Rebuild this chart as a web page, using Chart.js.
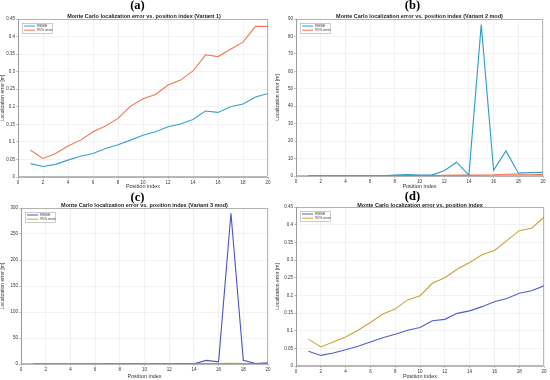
<!DOCTYPE html>
<html><head><meta charset="utf-8">
<script src="https://cdn.jsdelivr.net/npm/chart.js@4"></script>
<style>
html,body{margin:0;padding:0;background:#fff;}
body{width:550px;height:380px;position:relative;overflow:hidden;font-family:"Liberation Sans",Arial,sans-serif;}
.panel{position:absolute;width:275px;height:190px;}
.panel canvas{position:absolute;left:0;top:0;}
.lab{position:absolute;left:0;width:275px;text-align:center;font-family:"Liberation Serif","DejaVu Serif",serif;font-weight:bold;font-size:12.5px;line-height:12px;top:-1px;color:#000;}
.ttl{position:absolute;left:18px;width:252px;text-align:center;font-weight:bold;font-size:5.5px;line-height:6px;color:#222;}
</style></head><body>
<div class="panel" style="left:0;top:0"><canvas id="ca" width="275" height="190"></canvas><div class="lab">(a)</div><div class="ttl" style="top:12.5px">Monte Carlo localization error vs. position index (Variant 1)</div></div>
<div class="panel" style="left:275px;top:0"><canvas id="cb" width="275" height="190"></canvas><div class="lab">(b)</div><div class="ttl" style="top:12.5px;left:21px;width:247px">Monte Carlo localization error vs. position index (Variant 2 mod)</div></div>
<div class="panel" style="left:0;top:190px"><canvas id="cc" width="275" height="190"></canvas><div class="lab" style="top:1px">(c)</div><div class="ttl" style="top:12px;left:21px;width:247px">Monte Carlo localization error vs. position index (Variant 3 mod)</div></div>
<div class="panel" style="left:275px;top:190px"><canvas id="cd" width="275" height="190"></canvas><div class="lab" style="top:0px">(d)</div><div class="ttl" style="top:11.5px;left:21px;width:248px">Monte Carlo localization error vs. position index</div></div>
<script>
const positions = [1,2,3,4,5,6,7,8,9,10,11,12,13,14,15,16,17,18,19,20];
const seriesNames = ["RMSE","95% error"];

const rmseA = [0.038,0.030,0.036,0.048,0.059,0.067,0.081,0.092,0.105,0.119,0.129,0.143,0.151,0.164,0.188,0.184,0.200,0.208,0.228,0.238];
const p95A  = [0.076,0.053,0.067,0.088,0.105,0.129,0.145,0.167,0.202,0.223,0.235,0.262,0.276,0.302,0.348,0.343,0.364,0.384,0.429,0.429];

const rmseB = [0.05,0.05,0.05,0.05,0.06,0.07,0.08,0.5,0.8,0.6,0.5,3.0,7.9,0.5,86.8,3.3,14.4,1.7,2.0,2.1];
const p95B  = [0.05,0.05,0.05,0.06,0.06,0.07,0.08,0.15,0.2,0.3,0.3,0.4,0.5,0.5,0.6,0.7,1.0,1.1,1.0,0.8];

const rmseC = [0.04,0.03,0.04,0.05,0.06,0.07,0.08,0.09,0.1,0.11,0.13,0.14,0.15,0.5,7,4,290,7,1,2.5];
const p95C  = [0.08,0.05,0.07,0.09,0.1,0.13,0.15,0.17,0.2,0.22,0.24,0.26,0.28,0.4,0.9,0.8,1.2,1.0,0.7,0.9];

const rmseD = [0.042,0.030,0.037,0.046,0.056,0.068,0.080,0.090,0.101,0.109,0.128,0.132,0.149,0.156,0.168,0.182,0.191,0.206,0.213,0.227];
const p95D  = [0.076,0.054,0.068,0.082,0.101,0.123,0.147,0.161,0.187,0.199,0.234,0.250,0.274,0.293,0.315,0.327,0.355,0.383,0.390,0.421];

const xTicks = [0,2,4,6,8,10,12,14,16,18,20];
const yTicksA = [0,0.05,0.1,0.15,0.2,0.25,0.3,0.35,0.4,0.45];
const yTicksB = [0,10,20,30,40,50,60,70,80,90];
const yTicksC = [0,50,100,150,200,250,300];
const yTicksD = [0,0.05,0.1,0.15,0.2,0.25,0.3,0.35,0.4,0.45];

const FONT = "'Liberation Sans', Arial, sans-serif";

const boxLegend = {
  id:'boxLegend',
  afterDraw(chart){
    const {ctx, chartArea:a} = chart;
    ctx.save();
    ctx.strokeStyle='#8a8a8a'; ctx.lineWidth=0.6;
    ctx.strokeRect(a.left+0.5,a.top+0.5,a.right-a.left-1,a.bottom-a.top-1);
    const x=a.left+4, y=a.top+4, w=30, h=10;
    ctx.fillStyle='#fff'; ctx.fillRect(x,y,w,h);
    ctx.strokeStyle='#9a9a9a'; ctx.lineWidth=0.5; ctx.strokeRect(x+0.5,y+0.5,w,h);
    ctx.font="3.6px "+FONT; ctx.textBaseline='middle'; ctx.fillStyle='#333';
    chart.data.datasets.forEach((ds,i)=>{
      const yy=y+3+i*4.2;
      ctx.strokeStyle=ds.borderColor; ctx.lineWidth=1;
      ctx.beginPath(); ctx.moveTo(x+2,yy); ctx.lineTo(x+13,yy); ctx.stroke();
      ctx.fillText(ds.label,x+15,yy);
    });
    ctx.restore();
  }
};

function makeChart(id, rmse, p95, c1, c2, yTicks, ymax, geom){
  const fmt = v => String(+v.toFixed(2));
  new Chart(document.getElementById(id), {
    type:'line',
    data:{labels:positions, datasets:[
      {label:seriesNames[0], data:positions.map((p,i)=>({x:p,y:rmse[i]})), borderColor:c1, borderWidth:1.1, pointRadius:0, tension:0, fill:false},
      {label:seriesNames[1], data:positions.map((p,i)=>({x:p,y:p95[i]})), borderColor:c2, borderWidth:1.1, pointRadius:0, tension:0, fill:false}
    ]},
    options:{
      responsive:false, animation:false, devicePixelRatio:1,
      layout:{padding:{left:0,right:275-geom.r,top:geom.t,bottom:0}},
      plugins:{legend:{display:false}, title:{display:false}, tooltip:{enabled:false}},
      scales:{
        x:{type:'linear', min:0, max:20,
          afterBuildTicks: s => { s.ticks = xTicks.map(v=>({value:v})); },
          afterFit: s => { s.height = 190-geom.b; },
          ticks:{font:{size:4.5,family:FONT}, color:'#333', padding:1, maxRotation:0},
          grid:{color:'#e4e4e4', lineWidth:0.5, tickLength:2, tickColor:'#888'},
          border:{color:'#8a8a8a', width:0.6},
          title:{display:true, text:'Position index', font:{size:5.5,family:FONT}, color:'#333', padding:{top:1,bottom:0}}
        },
        y:{type:'linear', min:0, max:ymax,
          afterBuildTicks: s => { s.ticks = yTicks.map(v=>({value:v})); },
          afterFit: s => { s.width = geom.l; },
          ticks:{font:{size:4.5,family:FONT}, color:'#333', padding:1, callback: v => fmt(v)},
          grid:{color:'#e4e4e4', lineWidth:0.5, tickLength:2, tickColor:'#888'},
          border:{color:'#8a8a8a', width:0.6},
          title:{display:true, text:'Localization error [m]', font:{size:5,family:FONT}, color:'#333', padding:{top:0,bottom:1}}
        }
      }
    },
    plugins:[boxLegend]
  });
}

makeChart('ca', rmseA, p95A, '#35a2c8', '#f5744f', yTicksA, 0.45, {l:18,r:268,t:19,b:177});
makeChart('cb', rmseB, p95B, '#2b9cca', '#f2734e', yTicksB, 90, {l:21,r:268,t:19,b:176});
makeChart('cc', rmseC, p95C, '#4b52c8', '#d9a821', yTicksC, 300, {l:21,r:268,t:18,b:174});
makeChart('cd', rmseD, p95D, '#4f5ec9', '#c9a23a', yTicksD, 0.45, {l:21,r:269,t:17,b:176});
</script>
</body></html>
